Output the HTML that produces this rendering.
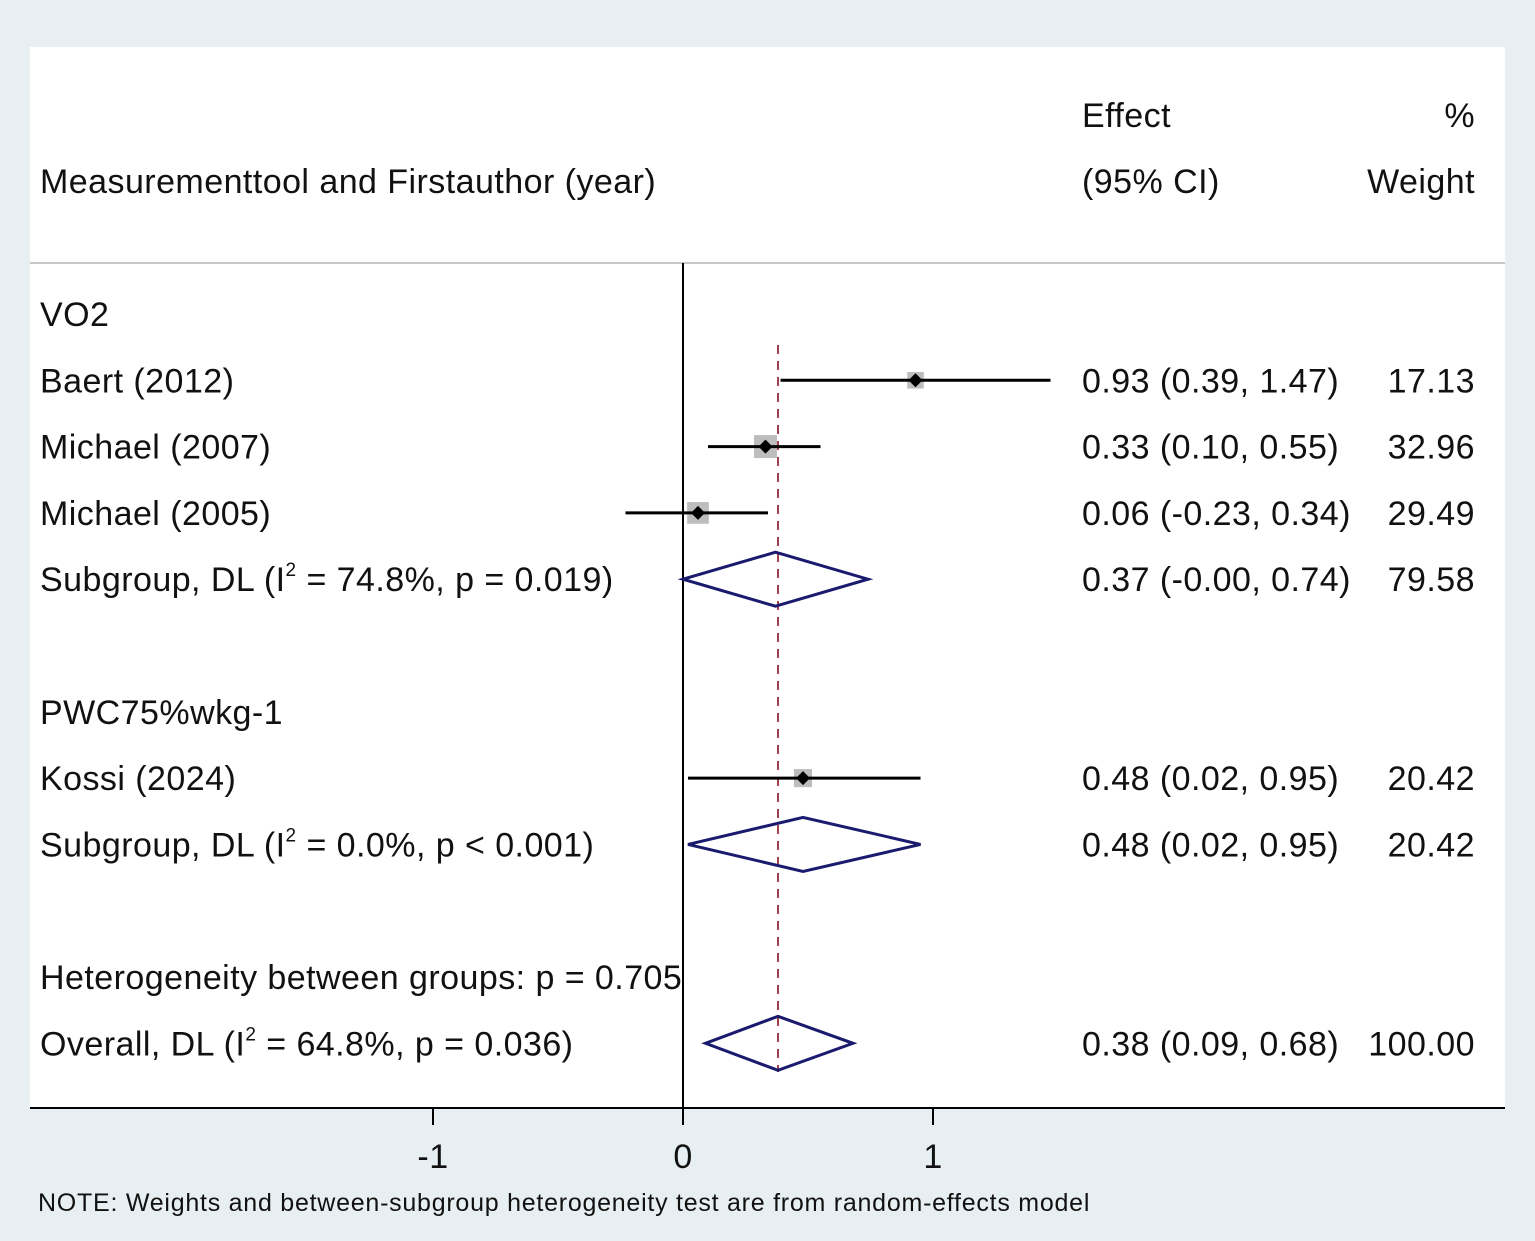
<!DOCTYPE html>
<html><head><meta charset="utf-8"><style>
body{margin:0;background:#e8eff2;}
svg{display:block;font-family:"Liberation Sans",Arial,sans-serif;}
svg text{letter-spacing:0.45px;}
</style></head><body>
<svg id="chart" width="1535" height="1241">
<rect x="0" y="0" width="1535" height="1241" fill="#e8eff2"/>
<rect x="30" y="47" width="1475" height="1061" fill="#ffffff"/>
<line x1="30" y1="263" x2="1505" y2="263" stroke="#c8c8c8" stroke-width="2"/>
<text x="40" y="193" font-size="34" fill="#111">Measurementtool and Firstauthor (year)</text>
<text x="1082" y="127" font-size="34" fill="#111">Effect</text>
<text x="1082" y="193" font-size="34" fill="#111">(95% CI)</text>
<text x="1475" y="127" font-size="34" fill="#111" text-anchor="end">%</text>
<text x="1475" y="193" font-size="34" fill="#111" text-anchor="end">Weight</text>
<g id="marks"></g>
<text x="38" y="1211" font-size="25" fill="#111" style="letter-spacing:0.75px">NOTE: Weights and between-subgroup heterogeneity test are from random-effects model</text>
</svg>
<script>
const labels=["VO2","Baert (2012)","Michael (2007)","Michael (2005)","Subgroup, DL (I|2| = 74.8%, p = 0.019)","","PWC75%wkg-1","Kossi (2024)","Subgroup, DL (I|2| = 0.0%, p < 0.001)","","Heterogeneity between groups: p = 0.705","Overall, DL (I|2| = 64.8%, p = 0.036)"];
const rowType=["head","study","study","study","diamond","","head","study","diamond","","text","diamond"];
const est=[null,0.93,0.33,0.06,0.37,null,null,0.48,0.48,null,null,0.38];
const lo=[null,0.39,0.10,-0.23,-0.00,null,null,0.02,0.02,null,null,0.09];
const hi=[null,1.47,0.55,0.34,0.74,null,null,0.95,0.95,null,null,0.68];
const ciText=[null,"0.93 (0.39, 1.47)","0.33 (0.10, 0.55)","0.06 (-0.23, 0.34)","0.37 (-0.00, 0.74)",null,null,"0.48 (0.02, 0.95)","0.48 (0.02, 0.95)",null,null,"0.38 (0.09, 0.68)"];
const weights=[null,17.13,32.96,29.49,79.58,null,null,20.42,20.42,null,null,100.00];
const ticks=[-1,0,1];
const overall=0.38;
const NS="http://www.w3.org/2000/svg";
const g=document.getElementById('marks');
const xs=v=>683+250*v;
const ys=i=>314+i*66.3;
function mk(t,a){const e=document.createElementNS(NS,t);for(const k in a)e.setAttribute(k,a[k]);g.appendChild(e);return e;}
const f=v=>v.toFixed(2);
let e=mk('line',{x1:xs(0),y1:263,x2:xs(0),y2:1108,stroke:'#000','stroke-width':2});


e=mk('line',{x1:30,y1:1108,x2:1505,y2:1108,stroke:'#000','stroke-width':2});


ticks.forEach(t=>{
 let l=mk('line',{x1:xs(t),y1:1108,x2:xs(t),y2:1125,stroke:'#000','stroke-width':2});
 
 
 let tx=mk('text',{x:xs(t),y:1168,'font-size':34,'text-anchor':'middle',fill:'#111'});
 tx.textContent=t;
 
 
});
e=mk('line',{x1:xs(overall),y1:345,x2:xs(overall),y2:1072,stroke:'#a0404a','stroke-width':2,'stroke-dasharray':'9,7'});


labels.forEach((lab,i)=>{
 if(!lab)return;
 const y=ys(i);
 const t=mk('text',{x:40,y:y+12,'font-size':34,fill:'#111'});
 const parts=lab.split('|');
 parts.forEach((p,k)=>{const s=document.createElementNS(NS,'tspan');s.textContent=p;if(k==1){s.setAttribute('font-size','19');s.setAttribute('dy','-15');}if(k==2){s.setAttribute('dy','15');}t.appendChild(s);});
 
 
 if(est[i]==null)return;
 const et=mk('text',{x:1082,y:y+12,'font-size':34,fill:'#111'});
 et.textContent=ciText[i];
 
 
 const wt=mk('text',{x:1475,y:y+12,'font-size':34,fill:'#111','text-anchor':'end'});
 wt.textContent=f(weights[i]);
 
 
 if(rowType[i]=='study'){
  const s=Math.sqrt(weights[i])*4.0;
  const sq=mk('rect',{x:xs(est[i])-s/2,y:y-s/2,width:s,height:s,fill:'#bdbdbd'});
  
  
  const l=mk('line',{x1:xs(lo[i]),y1:y,x2:xs(hi[i]),y2:y,stroke:'#000','stroke-width':3});
  
  
  const d=mk('polygon',{points:`${xs(est[i])-7},${y} ${xs(est[i])},${y-7} ${xs(est[i])+7},${y} ${xs(est[i])},${y+7}`,fill:'#000'});
  
  
 } else {
  const d=mk('polygon',{points:`${xs(lo[i])},${y} ${xs(est[i])},${y-27} ${xs(hi[i])},${y} ${xs(est[i])},${y+27}`,fill:'none',stroke:'#1a1a6e','stroke-width':3});
  
  
 }
});
</script>
</body></html>
